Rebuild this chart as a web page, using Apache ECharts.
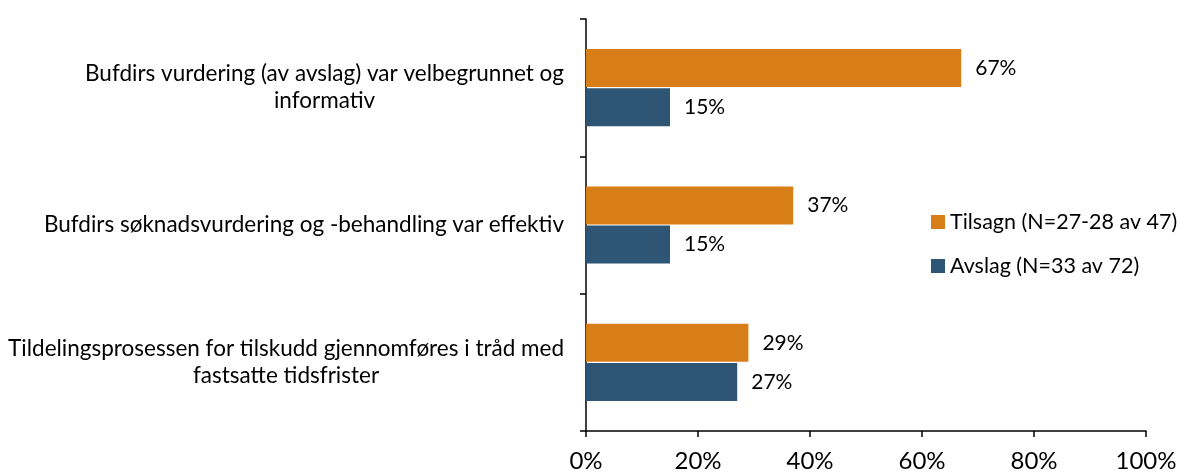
<!DOCTYPE html>
<html>
<head>
<meta charset="utf-8">
<style>
    html, body { margin: 0; padding: 0; background: #fff; }
    #chart { width: 1180px; height: 473px; }
</style>
</head>
<body>
<div id="chart"></div>
<script src="https://cdn.jsdelivr.net/npm/echarts@6/dist/echarts.min.js"></script>
<script>
    var categories = [
        'Bufdirs vurdering (av avslag) var velbegrunnet og\ninformativ',
        'Bufdirs søknadsvurdering og -behandling var effektiv',
        'Tildelingsprosessen for tilskudd gjennomføres i tråd med\nfastsatte tidsfrister'
    ];
    var seriesNames = ['Tilsagn (N=27-28 av 47)', 'Avslag (N=33 av 72)'];
    var tilsagn = [67, 37, 29];
    var avslag = [15, 15, 27];
    var xTicks = [0, 20, 40, 60, 80, 100];

    var font = 'Lato';
    var chart = echarts.init(document.getElementById('chart'));

    // each line centred like the original
    function catLabel(value) {
        return value.split('\n').map(function (s) { return '{c|' + s + '}'; }).join('\n');
    }

    var option = {
        animation: false,
        textStyle: { fontFamily: font },
        grid: { left: 586, right: 34, top: 19, bottom: 40 },
        legend: {
            orient: 'vertical',
            left: 926,
            top: 206,
            itemWidth: 14,
            itemHeight: 14,
            itemGap: 22,
            icon: 'rect',
            textStyle: { fontFamily: font, fontSize: 21.5, color: '#000' },
            data: seriesNames
        },
        xAxis: {
            type: 'value',
            min: xTicks[0],
            max: xTicks[xTicks.length - 1],
            interval: 20,
            axisLine: { show: true, lineStyle: { color: '#000', width: 1.5 } },
            axisTick: { show: true, length: 6, lineStyle: { color: '#000', width: 1.5 } },
            splitLine: { show: false },
            axisLabel: {
                formatter: '{value}%',
                color: '#000',
                fontFamily: font,
                fontSize: 24,
                margin: 18
            }
        },
        yAxis: {
            type: 'category',
            inverse: true,
            data: categories,
            axisLine: { show: true, lineStyle: { color: '#000', width: 1.5 } },
            axisTick: { show: true, length: 6, alignWithLabel: false, lineStyle: { color: '#000', width: 1.5 } },
            axisLabel: {
                color: '#000',
                margin: 22,
                formatter: catLabel,
                rich: {
                    c: { align: 'center', fontFamily: font, fontSize: 22.5, color: '#000', lineHeight: 27 }
                }
            }
        },
        series: [
            {
                name: seriesNames[0],
                type: 'bar',
                data: tilsagn,
                barWidth: 38,
                barGap: '3%',
                itemStyle: { color: '#D87E18' },
                label: {
                    show: true, position: 'right', distance: 14,
                    formatter: '{c}%', color: '#000', fontFamily: font, fontSize: 21
                }
            },
            {
                name: seriesNames[1],
                type: 'bar',
                data: avslag,
                barWidth: 38,
                barGap: '3%',
                itemStyle: { color: '#2F5574' },
                label: {
                    show: true, position: 'right', distance: 14,
                    formatter: '{c}%', color: '#000', fontFamily: font, fontSize: 21
                }
            }
        ]
    };

    chart.setOption(option);
</script>
</body>
</html>
